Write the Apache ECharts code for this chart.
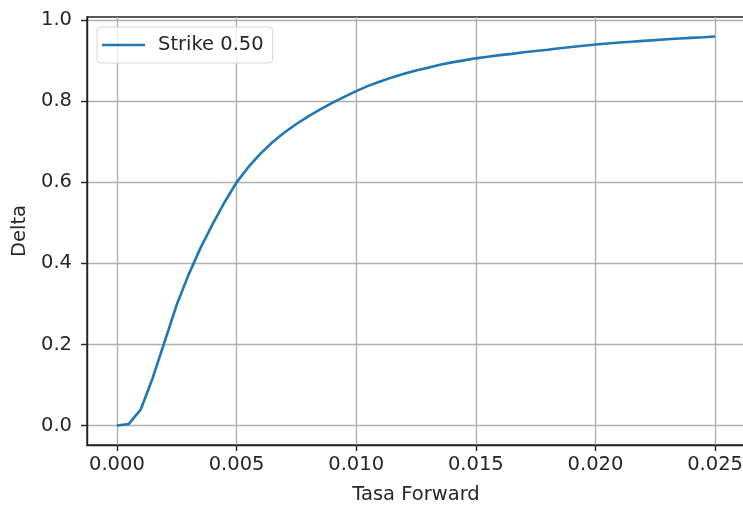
<!DOCTYPE html>
<html>
<head>
<meta charset="utf-8">
<title>Delta vs Tasa Forward</title>
<script src="https://cdn.jsdelivr.net/npm/echarts@6/dist/echarts.min.js"></script>
<style>
  html, body { margin: 0; padding: 0; background: #fff; }
  #chart { width: 743px; height: 507px; }
</style>
</head>
<body>
<div id="chart"></div>
<script>
// Forward rate grid (step 0.0005) and the option delta at each rate
const forwardRates = [
  0.0000, 0.0005, 0.0010, 0.0015, 0.0020, 0.0025, 0.0030, 0.0035, 0.0040, 0.0045,
  0.0050, 0.0055, 0.0060, 0.0065, 0.0070, 0.0075, 0.0080, 0.0085, 0.0090, 0.0095,
  0.0100, 0.0105, 0.0110, 0.0115, 0.0120, 0.0125, 0.0130, 0.0135, 0.0140, 0.0145,
  0.0150, 0.0155, 0.0160, 0.0165, 0.0170, 0.0175, 0.0180, 0.0185, 0.0190, 0.0195,
  0.0200, 0.0205, 0.0210, 0.0215, 0.0220, 0.0225, 0.0230, 0.0235, 0.0240, 0.0245,
  0.0250
];
const deltaStrike050 = [
  0.000, 0.004, 0.040, 0.118, 0.208, 0.298, 0.373, 0.439, 0.497, 0.551,
  0.600, 0.638, 0.671, 0.699, 0.723, 0.744, 0.763, 0.780, 0.796, 0.811,
  0.825, 0.838, 0.849, 0.859, 0.868, 0.876, 0.883, 0.890, 0.896, 0.901,
  0.906, 0.910, 0.914, 0.917, 0.921, 0.924, 0.927, 0.931, 0.934, 0.937,
  0.940, 0.9425, 0.945, 0.947, 0.949, 0.951, 0.953, 0.955, 0.9565, 0.958,
  0.960
];
const xTicks = [0, 0.005, 0.010, 0.015, 0.020, 0.025];
const yTicks = [0, 0.2, 0.4, 0.6, 0.8, 1.0];
const seriesName = 'Strike 0.50';

const FONT = 'DejaVu Sans';
const FS = 19.5;
const TEXT = '#262626';
const SPINE = '#222';
const GRID = '#b0b0b0';
const LINE = '#1f77b4';

const chart = echarts.init(document.getElementById('chart'), null, { renderer: 'canvas' });

chart.setOption({
  animation: false,
  backgroundColor: '#fff',
  textStyle: { fontFamily: FONT },
  grid: {
    left: 87, top: 17, width: 658, height: 428,
    outerBoundsMode: 'none',
    containLabel: false,
    show: true, borderColor: SPINE, borderWidth: 1.4, backgroundColor: 'transparent'
  },
  legend: {
    data: [{ name: seriesName, icon: 'rect' }],
    left: 97, top: 27,
    orient: 'vertical',
    padding: [8, 9, 8, 5],
    itemWidth: 43, itemHeight: 2.6,
    backgroundColor: 'rgba(255,255,255,0.8)',
    borderColor: '#d6d6d6', borderWidth: 1, borderRadius: 4,
    itemStyle: { color: LINE },
    textStyle: { fontFamily: FONT, fontSize: FS, color: TEXT, padding: [0, 0, 0, 8], lineHeight: 19 }
  },
  xAxis: {
    type: 'value',
    min: -0.00125, max: 0.02625,
    name: 'Tasa Forward',
    nameLocation: 'middle', nameGap: 40,
    nameTextStyle: { fontFamily: FONT, fontSize: FS, color: TEXT },
    axisLine: { show: true, onZero: false, lineStyle: { color: SPINE, width: 1.4 } },
    axisTick: { show: true, inside: false, length: 6, customValues: xTicks, lineStyle: { color: SPINE, width: 1.4 } },
    axisLabel: {
      customValues: xTicks, margin: 10,
      fontFamily: FONT, fontSize: FS, color: TEXT,
      formatter: v => v.toFixed(3)
    },
    splitLine: { show: true, lineStyle: { color: GRID, width: 1.4 } }
  },
  yAxis: {
    type: 'value',
    min: -0.048, max: 1.008,
    name: 'Delta',
    nameLocation: 'middle', nameGap: 56,
    nameTextStyle: { fontFamily: FONT, fontSize: FS, color: TEXT },
    axisLine: { show: true, onZero: false, lineStyle: { color: SPINE, width: 1.4 } },
    axisTick: { show: true, inside: false, length: 6, customValues: yTicks, lineStyle: { color: SPINE, width: 1.4 } },
    axisLabel: {
      customValues: yTicks, margin: 15,
      fontFamily: FONT, fontSize: FS, color: TEXT,
      formatter: v => v.toFixed(1)
    },
    splitLine: { show: true, lineStyle: { color: GRID, width: 1.4 } }
  },
  series: [{
    name: seriesName,
    type: 'line',
    data: forwardRates.map((f, i) => [f, deltaStrike050[i]]),
    symbol: 'none',
    smooth: false,
    lineStyle: { color: LINE, width: 2.6 },
    itemStyle: { color: LINE },
    z: 3
  }]
});
</script>
</body>
</html>
